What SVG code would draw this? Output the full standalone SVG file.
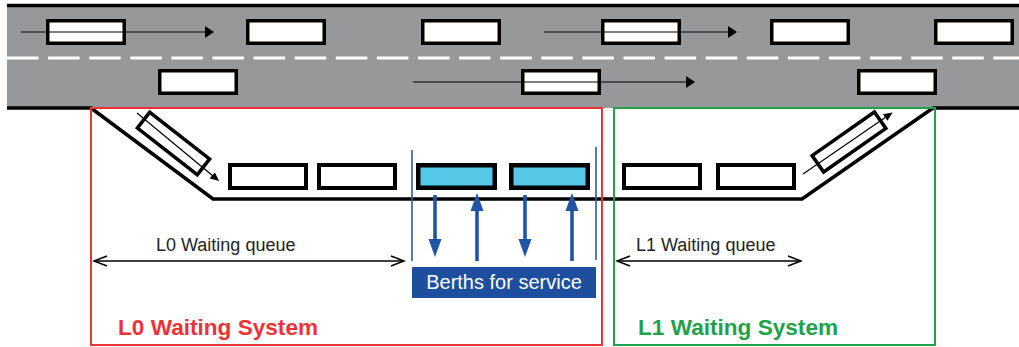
<svg xmlns="http://www.w3.org/2000/svg" width="1019" height="347" viewBox="0 0 1019 347">
  <style>
    .car { fill: #ffffff; stroke: #000000; stroke-width: 3.5; }
    .qcar { fill: #ffffff; stroke: #000000; stroke-width: 4; }
    .berth { fill: #55c8e8; stroke: #000000; stroke-width: 4.5; }
    .edge { fill: none; stroke: #000000; stroke-width: 3.5; }
    .flow { fill: none; stroke: #000000; stroke-width: 1.2; }
    .span { fill: none; stroke: #000000; stroke-width: 1.5; }
    .svc { fill: none; stroke: #2155a3; stroke-width: 3.6; }
    .bound { fill: none; stroke: #2c5aa0; stroke-width: 1.6; }
    .lbl { font-family: "Liberation Sans", Arial, sans-serif; font-size: 18px; fill: #231f20; }
    .sys { font-family: "Liberation Sans", Arial, sans-serif; font-size: 22.6px; font-weight: bold; }
  </style>
  <defs>
    <marker id="headRoad" markerUnits="userSpaceOnUse" markerWidth="9" markerHeight="12" refX="1" refY="6" orient="auto">
      <path d="M0,0 L9,6 L0,12 z" fill="#000000"/>
    </marker>
    <marker id="headSmall" markerUnits="userSpaceOnUse" markerWidth="9" markerHeight="8" refX="1" refY="4" orient="auto">
      <path d="M0,0 L9,4 L0,8 z" fill="#000000"/>
    </marker>
    <marker id="chevron" markerUnits="userSpaceOnUse" markerWidth="16" markerHeight="14" refX="14" refY="7" orient="auto-start-reverse">
      <path d="M1,2 L14,7 L1,12" fill="none" stroke="#000000" stroke-width="1.5"/>
    </marker>
    <marker id="headBlue" markerUnits="userSpaceOnUse" markerWidth="18" markerHeight="14" refX="6" refY="7" orient="auto">
      <path d="M0,0.5 L18,7 L0,13.5 z" fill="#2155a3"/>
    </marker>
  </defs>

  <!-- road surface with kerbs and lane divider -->
  <g id="road">
    <rect x="7" y="6" width="1012" height="102" fill="#97989a"/>
    <line x1="7" y1="5.5" x2="1019" y2="5.5" stroke="#000000" stroke-width="3.5"/>
    <line x1="7" y1="58" x2="1019" y2="58" stroke="#ffffff" stroke-width="3" stroke-dasharray="31.5 9.6"/>
    <line x1="7" y1="108" x2="92" y2="108" stroke="#000000" stroke-width="3.5"/>
    <line x1="933" y1="108" x2="1019" y2="108" stroke="#000000" stroke-width="3.5"/>
  </g>

  <!-- vehicles travelling on the road -->
  <g id="traffic">
    <rect class="car" x="47.75" y="20.75" width="76.5" height="22.5"/>
    <rect class="car" x="247.75" y="20.75" width="76.5" height="22.5"/>
    <rect class="car" x="422.75" y="20.75" width="76.5" height="22.5"/>
    <rect class="car" x="602.75" y="20.75" width="76.5" height="22.5"/>
    <rect class="car" x="771.75" y="20.75" width="76.5" height="22.5"/>
    <rect class="car" x="935.75" y="20.75" width="76.5" height="22.5"/>
    <rect class="car" x="159.75" y="70.75" width="76.5" height="22.5"/>
    <rect class="car" x="522.75" y="70.75" width="76.5" height="22.5"/>
    <rect class="car" x="858.75" y="70.75" width="76.5" height="22.5"/>
  </g>

  <!-- lay-by geometry -->
  <g id="bay">
    <polyline class="edge" points="91,108 213,199 802,199 933,108"/>
    <line class="bound" x1="412" y1="150" x2="412" y2="261"/>
    <line class="bound" x1="596" y1="147" x2="596" y2="260"/>
  </g>

  <!-- L0 waiting system -->
  <g id="L0-system">
    <rect x="91" y="108" width="511" height="237" fill="none" stroke="#ec3237" stroke-width="2"/>
    <rect class="car" x="-38" y="-10" width="76" height="20" transform="translate(173.5,143.5) rotate(38)"/>
    <rect class="qcar" x="230" y="165" width="76" height="23"/>
    <rect class="qcar" x="319" y="165" width="76" height="23"/>
    <text class="lbl" x="156" y="251">L0 Waiting queue</text>
    <text class="sys" x="118" y="335" fill="#ec3237">L0 Waiting System</text>
  </g>

  <!-- service berths -->
  <g id="berths">
    <rect class="berth" x="418.25" y="165.25" width="76.5" height="22.5"/>
    <rect class="berth" x="511.25" y="165.25" width="76.5" height="22.5"/>
    <rect x="412" y="267" width="184" height="31" fill="#1d4f9e"/>
    <text x="504" y="289" text-anchor="middle" font-family="'Liberation Sans', Arial, sans-serif" font-size="20" fill="#ffffff">Berths for service</text>
  </g>

  <!-- L1 waiting system -->
  <g id="L1-system">
    <rect x="614" y="108" width="321" height="237" fill="none" stroke="#21a149" stroke-width="2"/>
    <rect class="qcar" x="624" y="165" width="76" height="23"/>
    <rect class="qcar" x="718" y="165" width="76" height="23"/>
    <rect class="car" x="-38" y="-10" width="76" height="20" transform="translate(849,142) rotate(-35)"/>
    <text class="lbl" x="636" y="251">L1 Waiting queue</text>
    <text class="sys" x="638" y="335" fill="#21a149">L1 Waiting System</text>
  </g>

  <!-- movement arrows -->
  <g id="connectors">
    <line class="flow" x1="21" y1="32" x2="206" y2="32" marker-end="url(#headRoad)"/>
    <line class="flow" x1="544" y1="32" x2="729" y2="32" marker-end="url(#headRoad)"/>
    <line class="flow" x1="413" y1="82" x2="687" y2="82" marker-end="url(#headRoad)"/>
    <line class="flow" x1="137" y1="113" x2="213" y2="176" marker-end="url(#headSmall)"/>
    <line class="flow" x1="803" y1="174" x2="886" y2="117" marker-end="url(#headSmall)"/>
    <line class="span" x1="94" y1="261" x2="404" y2="261" marker-start="url(#chevron)" marker-end="url(#chevron)"/>
    <line class="span" x1="617" y1="261" x2="801" y2="261" marker-start="url(#chevron)" marker-end="url(#chevron)"/>
    <line class="svc" x1="435" y1="195" x2="435" y2="245" marker-end="url(#headBlue)"/>
    <line class="svc" x1="477" y1="261" x2="477" y2="205" marker-end="url(#headBlue)"/>
    <line class="svc" x1="525" y1="195" x2="525" y2="245" marker-end="url(#headBlue)"/>
    <line class="svc" x1="572" y1="261" x2="572" y2="205" marker-end="url(#headBlue)"/>
  </g>
</svg>
